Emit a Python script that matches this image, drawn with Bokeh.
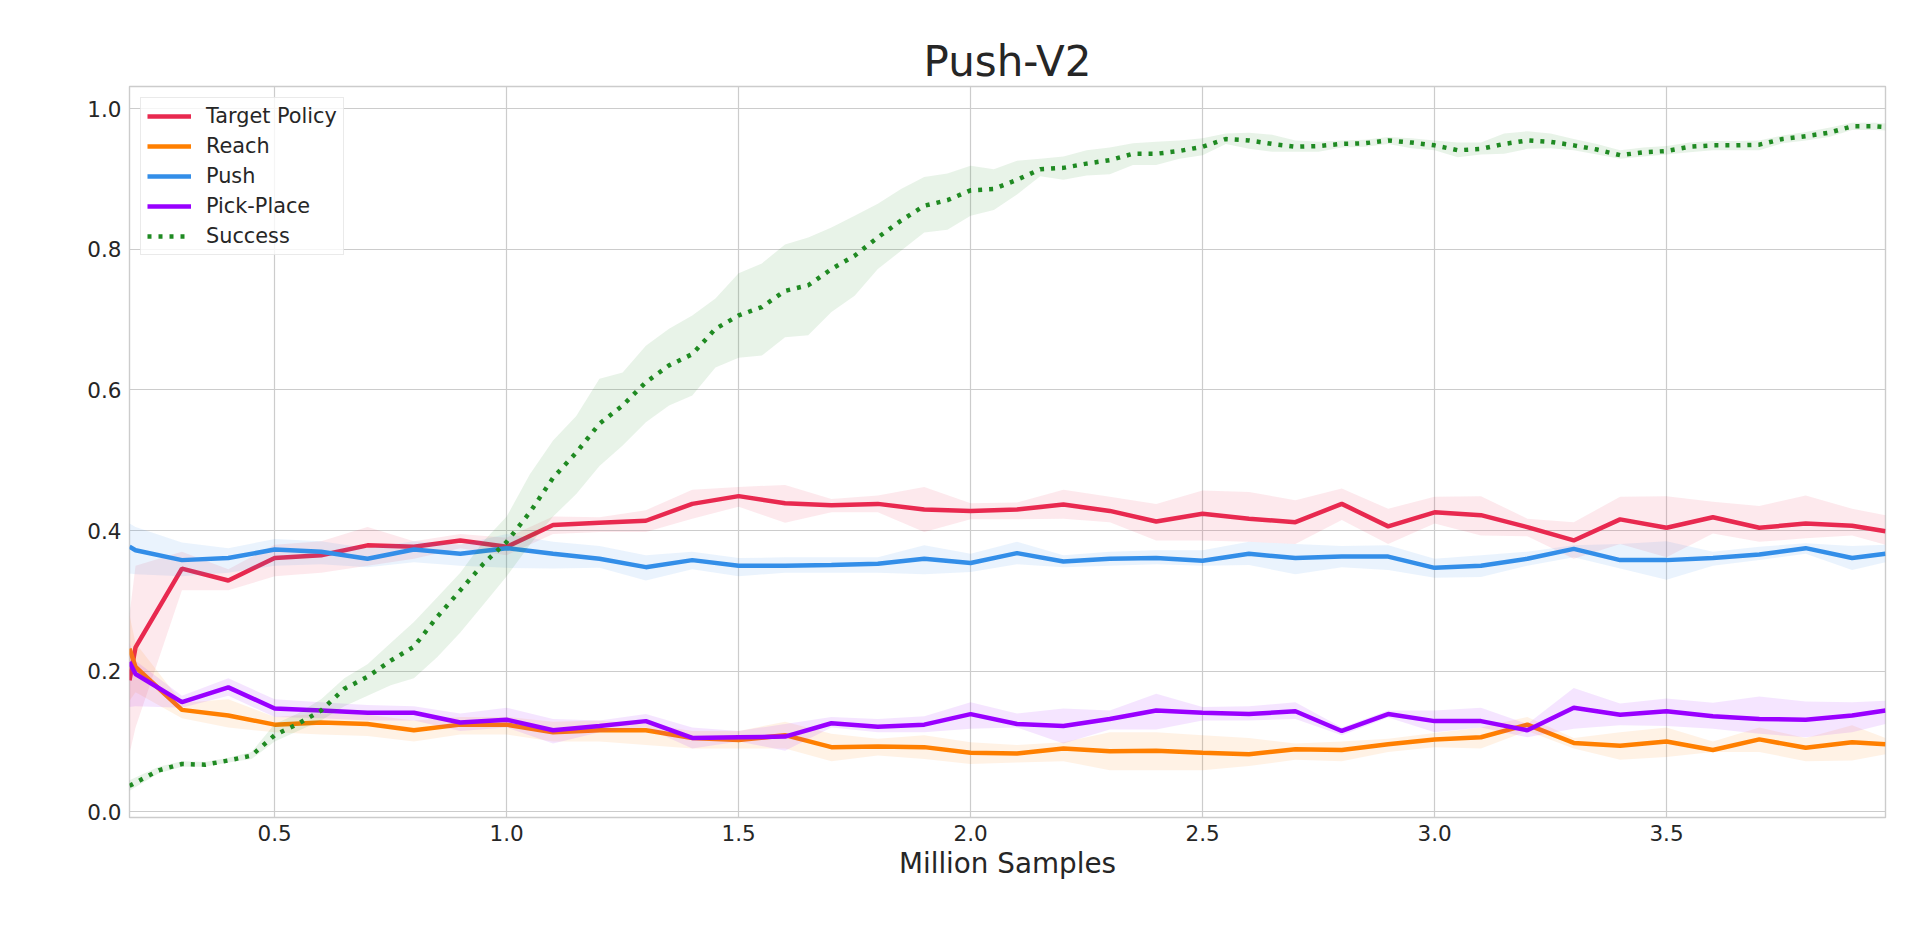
from bokeh.plotting import figure
from bokeh.models import Range1d, FixedTicker, PrintfTickFormatter
from bokeh.embed import file_html
from bokeh.resources import INLINE

# evaluation points (million samples)
x_main = [0.187, 0.2, 0.3, 0.4, 0.5, 0.6, 0.7, 0.8, 0.9, 1.0,
          1.1, 1.2, 1.3, 1.4, 1.5, 1.6, 1.7, 1.8, 1.9, 2.0,
          2.1, 2.2, 2.3, 2.4, 2.5, 2.6, 2.7, 2.8, 2.9, 3.0,
          3.1, 3.2, 3.3, 3.4, 3.5, 3.6, 3.7, 3.8, 3.9, 3.972]

target_mean = [0.187, 0.234, 0.346, 0.329, 0.361, 0.365, 0.379, 0.377, 0.386, 0.377,
               0.408, 0.411, 0.414, 0.438, 0.449, 0.439, 0.436, 0.438, 0.430, 0.428,
               0.430, 0.437, 0.428, 0.413, 0.424, 0.417, 0.412, 0.438, 0.406, 0.426,
               0.422, 0.405, 0.386, 0.416, 0.404, 0.419, 0.404, 0.410, 0.407, 0.399]
target_low = [0.083, 0.120, 0.315, 0.315, 0.335, 0.340, 0.350, 0.360, 0.375, 0.365,
              0.395, 0.398, 0.398, 0.417, 0.434, 0.411, 0.426, 0.426, 0.398, 0.416,
              0.416, 0.417, 0.412, 0.386, 0.386, 0.384, 0.381, 0.415, 0.381, 0.410,
              0.393, 0.392, 0.360, 0.381, 0.362, 0.396, 0.384, 0.389, 0.393, 0.380]
target_high = [0.280, 0.350, 0.370, 0.345, 0.380, 0.385, 0.405, 0.385, 0.395, 0.390,
               0.420, 0.419, 0.429, 0.458, 0.462, 0.465, 0.445, 0.450, 0.462, 0.439,
               0.440, 0.458, 0.448, 0.438, 0.457, 0.455, 0.443, 0.460, 0.431, 0.448,
               0.449, 0.417, 0.412, 0.448, 0.449, 0.441, 0.435, 0.450, 0.431, 0.422]

reach_mean = [0.232, 0.206, 0.145, 0.137, 0.124, 0.127, 0.125, 0.116, 0.124, 0.124,
              0.113, 0.116, 0.116, 0.105, 0.102, 0.109, 0.092, 0.093, 0.092, 0.084,
              0.083, 0.090, 0.086, 0.087, 0.084, 0.082, 0.089, 0.088, 0.096, 0.103,
              0.106, 0.124, 0.098, 0.094, 0.100, 0.088, 0.103, 0.091, 0.099, 0.096]
reach_low = [0.158, 0.170, 0.133, 0.120, 0.113, 0.110, 0.108, 0.100, 0.110, 0.110,
             0.100, 0.100, 0.095, 0.090, 0.090, 0.090, 0.072, 0.080, 0.075, 0.068,
             0.070, 0.072, 0.059, 0.059, 0.059, 0.065, 0.074, 0.072, 0.085, 0.092,
             0.090, 0.115, 0.090, 0.074, 0.078, 0.085, 0.085, 0.072, 0.073, 0.082]
reach_high = [0.280, 0.240, 0.155, 0.160, 0.135, 0.140, 0.138, 0.130, 0.135, 0.135,
              0.128, 0.130, 0.125, 0.115, 0.115, 0.128, 0.111, 0.104, 0.109, 0.099,
              0.095, 0.099, 0.113, 0.113, 0.109, 0.105, 0.097, 0.100, 0.104, 0.112,
              0.120, 0.135, 0.105, 0.113, 0.120, 0.100, 0.120, 0.105, 0.123, 0.105]

push_mean = [0.377, 0.372, 0.358, 0.361, 0.373, 0.370, 0.360, 0.373, 0.367, 0.375,
             0.367, 0.360, 0.348, 0.358, 0.350, 0.350, 0.351, 0.353, 0.360, 0.354,
             0.368, 0.356, 0.360, 0.361, 0.357, 0.367, 0.361, 0.363, 0.363, 0.347,
             0.350, 0.360, 0.374, 0.358, 0.358, 0.361, 0.366, 0.375, 0.361, 0.367]
push_low = [0.339, 0.338, 0.335, 0.340, 0.350, 0.352, 0.348, 0.355, 0.350, 0.347,
            0.346, 0.347, 0.329, 0.345, 0.335, 0.340, 0.340, 0.340, 0.338, 0.341,
            0.352, 0.348, 0.350, 0.352, 0.350, 0.351, 0.338, 0.348, 0.344, 0.333,
            0.334, 0.350, 0.362, 0.346, 0.330, 0.350, 0.358, 0.367, 0.344, 0.355]
push_high = [0.410, 0.405, 0.383, 0.375, 0.388, 0.385, 0.375, 0.385, 0.380, 0.395,
             0.384, 0.378, 0.365, 0.370, 0.361, 0.362, 0.362, 0.362, 0.379, 0.367,
             0.384, 0.365, 0.370, 0.372, 0.372, 0.384, 0.381, 0.378, 0.379, 0.360,
             0.365, 0.370, 0.379, 0.381, 0.385, 0.370, 0.377, 0.382, 0.378, 0.380]

pick_mean = [0.213, 0.196, 0.156, 0.177, 0.147, 0.144, 0.141, 0.141, 0.127, 0.131,
             0.116, 0.122, 0.129, 0.105, 0.106, 0.107, 0.126, 0.121, 0.124, 0.139,
             0.125, 0.122, 0.132, 0.144, 0.141, 0.139, 0.143, 0.115, 0.139, 0.129,
             0.129, 0.116, 0.148, 0.138, 0.143, 0.136, 0.132, 0.131, 0.137, 0.144]
pick_low = [0.149, 0.150, 0.148, 0.165, 0.135, 0.133, 0.130, 0.130, 0.115, 0.120,
            0.097, 0.113, 0.120, 0.090, 0.100, 0.087, 0.120, 0.113, 0.113, 0.118,
            0.120, 0.097, 0.117, 0.117, 0.130, 0.130, 0.132, 0.109, 0.134, 0.113,
            0.120, 0.106, 0.118, 0.123, 0.122, 0.118, 0.111, 0.106, 0.113, 0.125]
pick_high = [0.240, 0.215, 0.165, 0.190, 0.160, 0.156, 0.152, 0.150, 0.140, 0.148,
             0.132, 0.130, 0.139, 0.120, 0.115, 0.125, 0.135, 0.132, 0.136, 0.156,
             0.140, 0.147, 0.144, 0.168, 0.149, 0.150, 0.156, 0.120, 0.144, 0.144,
             0.148, 0.125, 0.176, 0.154, 0.161, 0.155, 0.164, 0.157, 0.156, 0.158]

# success is logged twice as often
x_success = [0.187, 0.25, 0.3, 0.35, 0.4, 0.45, 0.5, 0.55, 0.6, 0.65,
             0.7, 0.75, 0.8, 0.85, 0.9, 0.95, 1.0, 1.05, 1.1, 1.15,
             1.2, 1.25, 1.3, 1.35, 1.4, 1.45, 1.5, 1.55, 1.6, 1.65,
             1.7, 1.75, 1.8, 1.85, 1.9, 1.95, 2.0, 2.05, 2.1, 2.15,
             2.2, 2.25, 2.3, 2.35, 2.4, 2.45, 2.5, 2.55, 2.6, 2.65,
             2.7, 2.75, 2.8, 2.85, 2.9, 2.95, 3.0, 3.05, 3.1, 3.15,
             3.2, 3.25, 3.3, 3.35, 3.4, 3.45, 3.5, 3.55, 3.6, 3.65,
             3.7, 3.75, 3.8, 3.85, 3.9, 3.95, 3.972]
success_mean = [0.037, 0.059, 0.068, 0.067, 0.073, 0.080, 0.109, 0.125, 0.144, 0.175,
                0.192, 0.215, 0.235, 0.277, 0.315, 0.353, 0.384, 0.426, 0.475, 0.511,
                0.552, 0.578, 0.611, 0.635, 0.651, 0.687, 0.706, 0.718, 0.741, 0.749,
                0.772, 0.791, 0.817, 0.841, 0.862, 0.870, 0.884, 0.886, 0.899, 0.914,
                0.916, 0.922, 0.927, 0.936, 0.936, 0.940, 0.946, 0.957, 0.955, 0.950,
                0.946, 0.947, 0.950, 0.951, 0.955, 0.952, 0.948, 0.941, 0.943, 0.950,
                0.955, 0.953, 0.948, 0.942, 0.934, 0.938, 0.940, 0.946, 0.948, 0.948,
                0.949, 0.957, 0.961, 0.966, 0.975, 0.975, 0.974]
success_low = [0.030, 0.055, 0.064, 0.064, 0.070, 0.075, 0.100, 0.115, 0.130, 0.150,
               0.165, 0.180, 0.190, 0.220, 0.255, 0.295, 0.335, 0.380, 0.420, 0.452,
               0.492, 0.521, 0.554, 0.578, 0.592, 0.632, 0.646, 0.649, 0.675, 0.678,
               0.711, 0.734, 0.772, 0.798, 0.824, 0.828, 0.848, 0.856, 0.878, 0.904,
               0.899, 0.905, 0.907, 0.920, 0.920, 0.929, 0.934, 0.950, 0.943, 0.939,
               0.939, 0.939, 0.945, 0.946, 0.950, 0.944, 0.941, 0.931, 0.935, 0.936,
               0.943, 0.944, 0.941, 0.935, 0.929, 0.932, 0.935, 0.938, 0.941, 0.941,
               0.941, 0.951, 0.955, 0.960, 0.970, 0.970, 0.969]
success_high = [0.045, 0.064, 0.072, 0.071, 0.077, 0.085, 0.125, 0.140, 0.160, 0.190,
                0.210, 0.240, 0.270, 0.305, 0.340, 0.385, 0.420, 0.480, 0.528, 0.563,
                0.616, 0.625, 0.663, 0.687, 0.706, 0.730, 0.766, 0.780, 0.807, 0.817,
                0.831, 0.848, 0.865, 0.886, 0.903, 0.908, 0.919, 0.914, 0.926, 0.929,
                0.932, 0.941, 0.945, 0.951, 0.953, 0.955, 0.958, 0.965, 0.966, 0.963,
                0.955, 0.953, 0.955, 0.956, 0.960, 0.958, 0.955, 0.952, 0.952, 0.965,
                0.968, 0.965, 0.957, 0.950, 0.941, 0.945, 0.947, 0.952, 0.954, 0.954,
                0.955, 0.962, 0.967, 0.973, 0.980, 0.980, 0.979]

x_ticks = [0.5, 1.0, 1.5, 2.0, 2.5, 3.0, 3.5]
y_ticks = [0.0, 0.2, 0.4, 0.6, 0.8, 1.0]

FONT = "DejaVu Sans"
TEXT = "#262626"
GRID = "#cccccc"


def main():
    p = figure(width=1912, height=928,
               x_range=Range1d(0.187, 3.972), y_range=Range1d(-0.0081, 1.0317),
               output_backend="svg", toolbar_location=None,
               min_border_left=129, min_border_right=27,
               min_border_top=86, min_border_bottom=111)

    p.title.text = "Push-V2"
    p.title.align = "center"
    p.title.text_font = FONT
    p.title.text_font_size = "42px"
    p.title.text_font_style = "normal"
    p.title.text_color = TEXT
    p.title.standoff = 2

    series = [
        ("Target Policy", x_main, target_mean, target_low, target_high, "#e8294f", None),
        ("Reach", x_main, reach_mean, reach_low, reach_high, "#ff7f00", None),
        ("Push", x_main, push_mean, push_low, push_high, "#338ee8", None),
        ("Pick-Place", x_main, pick_mean, pick_low, pick_high, "#9900ff", None),
        ("Success", x_success, success_mean, success_low, success_high, "#1f8a22", "4 7"),
    ]
    for name, xs, mean, low, high, color, dash in series:
        p.varea(x=xs, y1=low, y2=high, fill_color=color, fill_alpha=0.1)
        p.line(xs, mean, color=color, line_width=4.5, legend_label=name,
               line_dash=dash if dash else "solid")

    for ax in (p.xaxis, p.yaxis):
        ax.axis_line_color = None
        ax.major_tick_line_color = None
        ax.minor_tick_line_color = None
        ax.major_label_text_font = FONT
        ax.major_label_text_font_size = "21.5px"
        ax.major_label_text_color = TEXT
        ax.formatter = PrintfTickFormatter(format="%.1f")
    p.xaxis.major_label_standoff = 1
    p.yaxis.major_label_standoff = 2
    p.xaxis.ticker = FixedTicker(ticks=x_ticks)
    p.yaxis.ticker = FixedTicker(ticks=y_ticks)

    p.xaxis.axis_label = "Million Samples"
    p.xaxis.axis_label_text_font = FONT
    p.xaxis.axis_label_text_font_size = "27.8px"
    p.xaxis.axis_label_text_font_style = "normal"
    p.xaxis.axis_label_text_color = TEXT
    p.xaxis.axis_label_standoff = 3

    p.xgrid.grid_line_color = GRID
    p.ygrid.grid_line_color = GRID
    p.xgrid.grid_line_width = 1.2
    p.ygrid.grid_line_width = 1.2
    p.outline_line_color = GRID
    p.outline_line_width = 1.4

    lg = p.legend[0]
    lg.location = "top_left"
    lg.margin = 11
    lg.padding = 6
    lg.spacing = 6
    lg.glyph_width = 44
    lg.glyph_height = 22
    lg.label_height = 22
    lg.label_standoff = 15
    lg.label_text_font = FONT
    lg.label_text_font_size = "20.8px"
    lg.label_text_color = TEXT
    lg.border_line_color = "#d5d5d5"
    lg.border_line_width = 1
    lg.background_fill_alpha = 0.8

    open("out.html", "w").write(file_html(p, INLINE))


if __name__ == "__main__":
    main()
